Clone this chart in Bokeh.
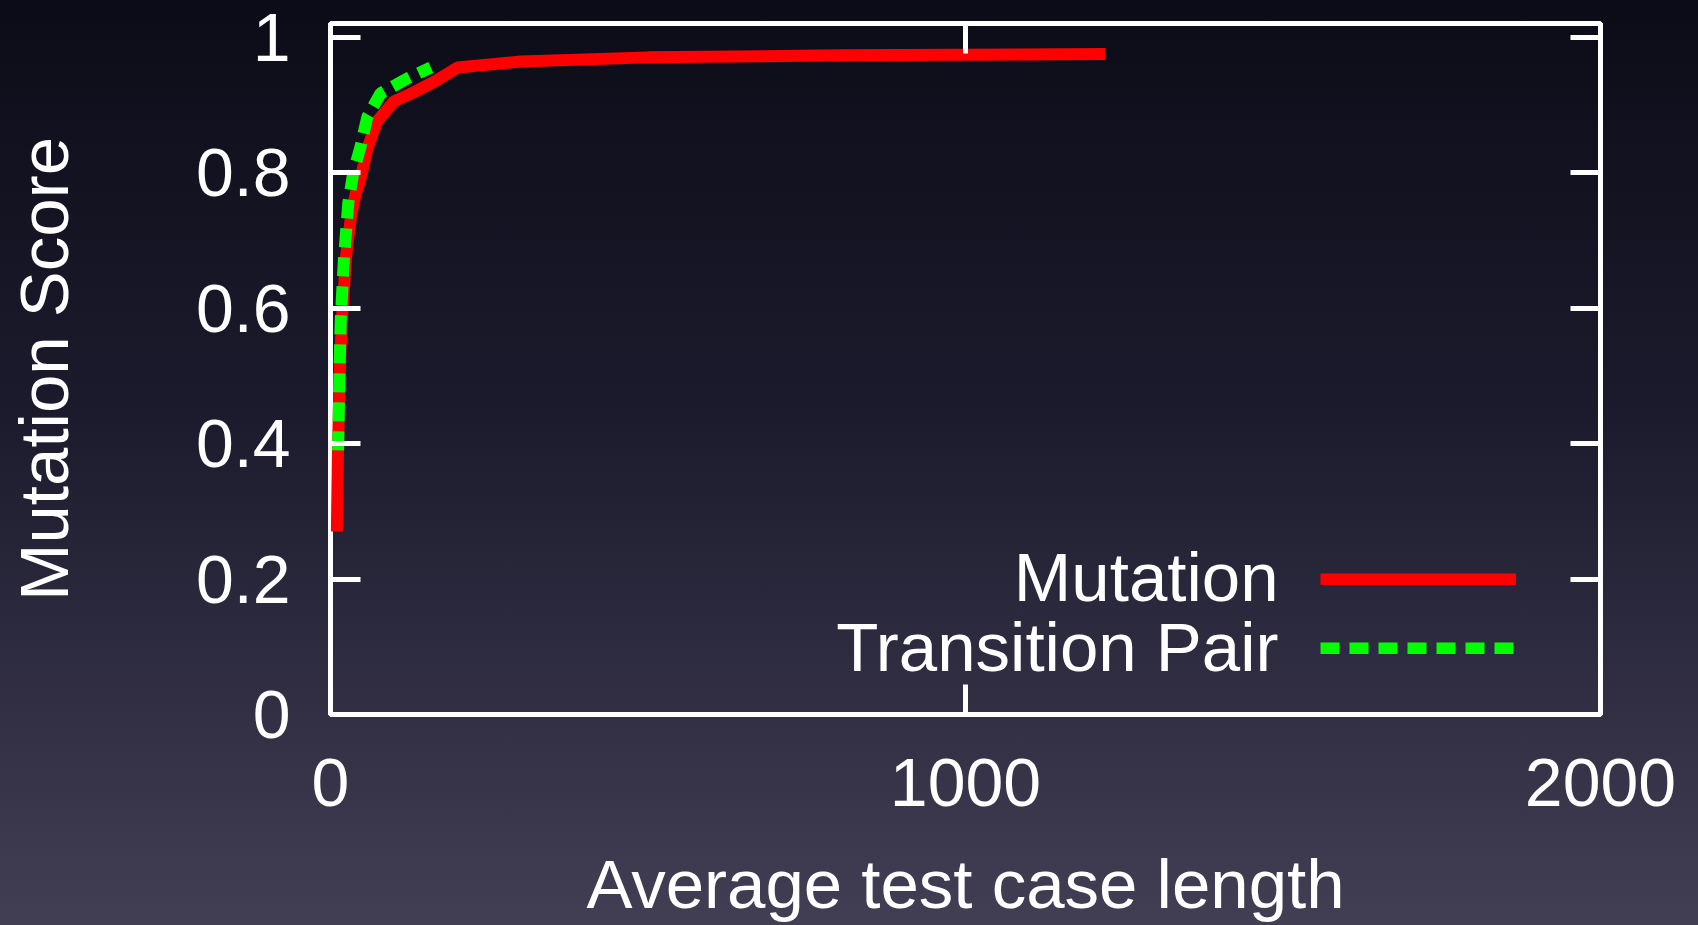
from bokeh.plotting import figure
from bokeh.models import Range1d, FixedTicker, LinearAxis, Legend, LegendItem, Label
from bokeh.embed import file_html
from bokeh.resources import INLINE

# ---- data ----
mutation_x = [10, 12, 15, 19, 25, 33, 40, 47, 58, 73, 100, 130, 165, 200, 300, 500, 800, 1220]
mutation_y = [0.27, 0.40, 0.52, 0.60, 0.68, 0.74, 0.77, 0.79, 0.835, 0.875, 0.905, 0.918,
              0.935, 0.955, 0.964, 0.970, 0.973, 0.975]
transition_x = [12, 14, 16, 21, 28, 36, 47, 58, 79, 121, 158]
transition_y = [0.39, 0.50, 0.58, 0.67, 0.755, 0.80, 0.837, 0.882, 0.917, 0.939, 0.955]

series_names = ["Mutation", "Transition Pair"]
x_ticks = [0, 1000, 2000]
x_tick_labels = ["0", "1000", "2000"]
y_ticks = [0, 0.2, 0.4, 0.6, 0.8, 1.0]
y_tick_labels = ["0", "0.2", "0.4", "0.6", "0.8", "1"]
x_title = "Average test case length"
y_title = "Mutation Score"

FONT = "Liberation Sans"
WHITE = "#ffffff"

p = figure(width=1698, height=925, output_backend="svg", toolbar_location=None,
           x_range=Range1d(0, 2000), y_range=Range1d(0, 1.02),
           min_border_left=330, min_border_right=98, min_border_top=23, min_border_bottom=209,
           x_axis_label=x_title, y_axis_label=y_title)

p.styles = {"background": "linear-gradient(to bottom, #0c0c18 0%, #1c1b2d 45%, #423e54 100%)"}
p.border_fill_alpha = 0
p.background_fill_alpha = 0
p.outline_line_color = WHITE
p.outline_line_width = 5
p.outline_line_alpha = 1
p.grid.visible = False

r1 = p.line(mutation_x, mutation_y, line_color="#ff0000", line_width=12)
r2 = p.line(transition_x, transition_y, line_color="#00ff00", line_width=12, line_dash="19 10")


def style_axis(ax, ticks, labels, show_labels=True):
    ax.ticker = FixedTicker(ticks=ticks)
    ax.major_label_overrides = {t: l for t, l in zip(ticks, labels)}
    ax.axis_line_color = None
    ax.major_tick_in = 30
    ax.major_tick_out = 0
    ax.major_tick_line_color = WHITE
    ax.major_tick_line_width = 5
    ax.minor_tick_line_color = None
    ax.major_label_text_font = FONT
    ax.major_label_text_color = WHITE
    if show_labels:
        ax.major_label_text_font_size = "68px"
    else:
        ax.major_label_text_font_size = "1px"
        ax.major_label_text_alpha = 0
        ax.major_label_standoff = 0
    ax.axis_label_text_font = FONT
    ax.axis_label_text_color = WHITE
    ax.axis_label_text_font_style = "normal"


xa = p.xaxis[0]
style_axis(xa, x_ticks, x_tick_labels)
xa.major_label_standoff = 44
xa.axis_label_text_font_size = "69px"
xa.axis_label_standoff = 37

ya = p.yaxis[0]
style_axis(ya, y_ticks, y_tick_labels)
ya.major_label_standoff = 40
ya.axis_label_text_font_size = "69px"
ya.axis_label_standoff = 110

top = LinearAxis()
style_axis(top, x_ticks, x_tick_labels, show_labels=False)
p.add_layout(top, "above")
right = LinearAxis()
style_axis(right, y_ticks, y_tick_labels, show_labels=False)
p.add_layout(right, "right")

legend = Legend(items=[LegendItem(label=" ", renderers=[r1]),
                       LegendItem(label=" ", renderers=[r2])],
                location=(990, 60), orientation="vertical",
                glyph_width=196, glyph_height=12, label_height=12, label_width=0,
                label_standoff=0, label_text_font_size="1px", spacing=57,
                padding=0, margin=0, border_line_color=None, background_fill_alpha=0)
p.add_layout(legend)

for name, ypos in zip(series_names, [137, 67]):
    p.add_layout(Label(x=948, y=ypos, x_units="screen", y_units="screen", text=name,
                       text_align="right", text_baseline="alphabetic",
                       text_font=FONT, text_font_size="69px", text_color=WHITE))

open("out.html", "w").write(file_html(p, INLINE))
